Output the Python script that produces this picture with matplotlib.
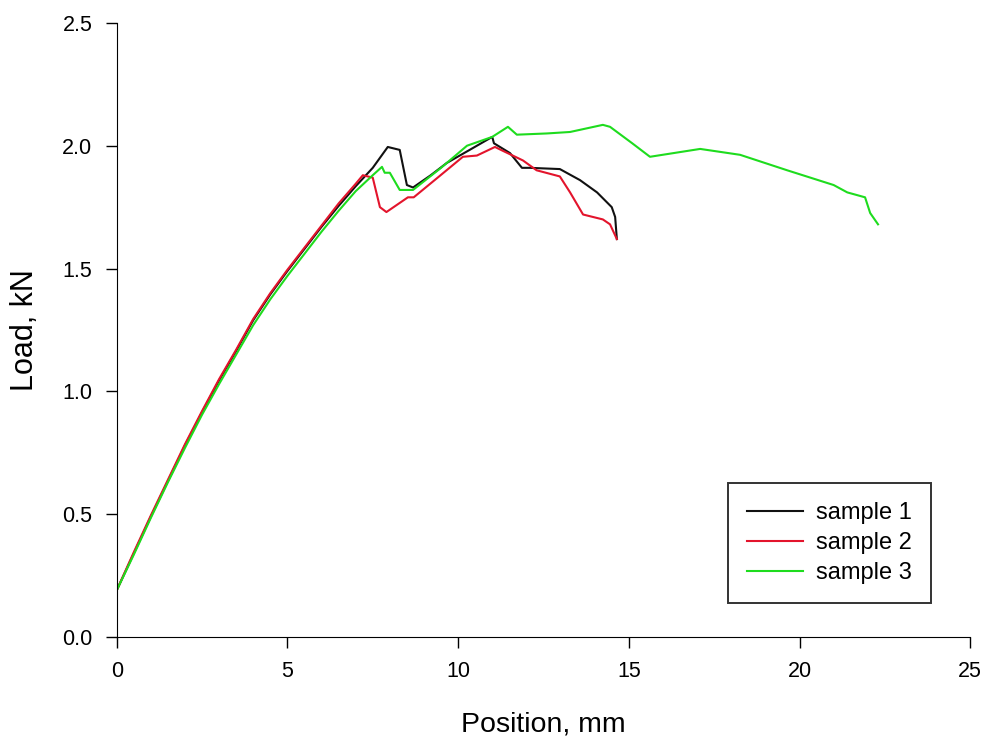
import matplotlib

matplotlib.use("Agg")

import matplotlib.pyplot as plt

plt.rcParams["font.family"] = ["Liberation Sans", "DejaVu Sans"]

# sample 1 (black)
S1_X = [0.0, 0.5, 1.0, 1.5, 2.0, 2.5, 3.0, 3.5, 4.0, 4.5, 5.0, 5.5, 6.0, 6.5,
        7.0, 7.5, 7.94, 8.29, 8.5, 8.68, 9.2, 9.67, 10.3, 11.0, 11.05, 11.52,
        11.87, 12.1, 12.98, 13.57, 14.07, 14.5, 14.6, 14.65]
S1_Y = [0.19, 0.34, 0.49, 0.635, 0.78, 0.915, 1.045, 1.165, 1.29, 1.395, 1.49,
        1.58, 1.67, 1.755, 1.835, 1.91, 1.995, 1.983, 1.84, 1.83, 1.88, 1.93,
        1.98, 2.036, 2.01, 1.97, 1.91, 1.91, 1.905, 1.86, 1.81, 1.75, 1.71, 1.62]

# sample 2 (red)
S2_X = [0.0, 0.5, 1.0, 1.5, 2.0, 2.5, 3.0, 3.5, 4.0, 4.5, 5.0, 5.5, 6.0, 6.5,
        7.0, 7.21, 7.5, 7.71, 7.9, 8.53, 8.7, 9.4, 10.14, 10.55, 11.08, 11.3,
        11.9, 12.3, 12.98, 13.28, 13.66, 14.24, 14.45, 14.65]
S2_Y = [0.19, 0.345, 0.495, 0.64, 0.785, 0.92, 1.05, 1.17, 1.295, 1.40, 1.495,
        1.585, 1.675, 1.765, 1.845, 1.88, 1.87, 1.75, 1.73, 1.79, 1.79, 1.87,
        1.955, 1.96, 1.995, 1.98, 1.94, 1.90, 1.875, 1.81, 1.72, 1.70, 1.68, 1.62]

# sample 3 (green)
S3_X = [0.0, 0.5, 1.0, 1.5, 2.0, 2.5, 3.0, 3.5, 4.0, 4.5, 5.0, 5.5, 6.0, 6.5,
        7.0, 7.5, 7.77, 7.85, 8.0, 8.29, 8.68, 9.5, 10.26, 11.0, 11.46, 11.72,
        12.6, 13.28, 14.24, 14.45, 15.1, 15.62, 17.09, 18.26, 19.64, 21.0,
        21.4, 21.92, 22.07, 22.3]
S3_Y = [0.19, 0.335, 0.485, 0.63, 0.77, 0.905, 1.03, 1.15, 1.27, 1.375, 1.47,
        1.56, 1.65, 1.735, 1.815, 1.88, 1.914, 1.89, 1.89, 1.82, 1.82, 1.91,
        2.0, 2.036, 2.077, 2.045, 2.05, 2.056, 2.085, 2.077, 2.01, 1.955, 1.987,
        1.963, 1.90, 1.84, 1.81, 1.79, 1.726, 1.68]

LABELS = ["sample 1", "sample 2", "sample 3"]
COLORS = ["#111111", "#e3142c", "#1edc1e"]

fig = plt.figure(figsize=(9.89, 7.39), dpi=100)
ax = fig.add_axes([0.118, 0.138, 0.863, 0.831])

for xs, ys, label, color in zip((S1_X, S2_X, S3_X), (S1_Y, S2_Y, S3_Y), LABELS, COLORS):
    ax.plot(xs, ys, color=color, linewidth=1.5, label=label)

ax.set_xlim(0, 25)
ax.set_ylim(0, 2.5)
ax.set_xticks([0, 5, 10, 15, 20, 25])
ax.set_yticks([0.0, 0.5, 1.0, 1.5, 2.0, 2.5])
ax.set_yticklabels(["0.0", "0.5", "1.0", "1.5", "2.0", "2.5"])
ax.spines["top"].set_visible(False)
ax.spines["right"].set_visible(False)
ax.tick_params(direction="out", length=8, width=1, labelsize=15.5, pad=9.5)
ax.set_xlabel("Position, mm", fontsize=20.5, labelpad=21)
ax.set_ylabel("Load, kN", fontsize=22, labelpad=16)

leg = ax.legend(loc="lower right", bbox_to_anchor=(0.954, 0.055), borderaxespad=0,
                fontsize=17, frameon=True, fancybox=False, edgecolor="black",
                handlelength=2.4, handletextpad=0.55, borderpad=0.8,
                labelspacing=0.35)
leg.get_frame().set_linewidth(1.4)

fig.savefig("out.png", dpi=100)
